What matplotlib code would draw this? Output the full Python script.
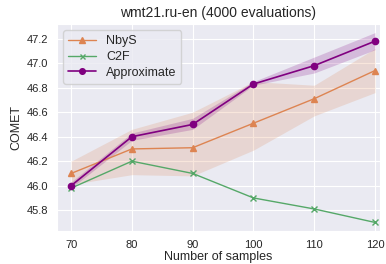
import numpy as np
import matplotlib
matplotlib.use('Agg')
import matplotlib.pyplot as plt
import seaborn as sns

samples = [70, 80, 90, 100, 110, 120]

nbys = [46.10, 46.30, 46.31, 46.51, 46.71, 46.94]
nbys_lo = [46.01, 46.09, 46.08, 46.29, 46.57, 46.76]
nbys_hi = [46.20, 46.46, 46.60, 46.85, 46.82, 47.12]

c2f = [45.98, 46.20, 46.10, 45.90, 45.81, 45.70]

approx = [46.00, 46.40, 46.50, 46.83, 46.98, 47.18]
approx_lo = [45.98, 46.37, 46.46, 46.82, 46.92, 47.11]
approx_hi = [46.03, 46.43, 46.55, 46.85, 47.05, 47.25]

sns.set_style('darkgrid')
plt.rcParams['font.family'] = ['Liberation Sans', 'DejaVu Sans']

pal = sns.color_palette('deep')

fig = plt.figure(figsize=(3.86, 2.64), dpi=100)
ax = fig.add_axes([0.148, 0.125, 0.836, 0.784])

ax.plot(samples, nbys, color=pal[1], marker='^', ms=4.5, lw=1, label='NbyS')
ax.fill_between(samples, nbys_lo, nbys_hi, color=pal[1], alpha=0.2, lw=0)
ax.plot(samples, c2f, color=pal[2], marker='x', ms=4, mew=1, lw=1, label='C2F')
ax.plot(samples, approx, color='purple', marker='o', ms=4.5, lw=1.2, label='Approximate')
ax.fill_between(samples, approx_lo, approx_hi, color='purple', alpha=0.2, lw=0)

ax.set_xlim(67.7, 120.8)
ax.set_ylim(45.63, 47.32)
ax.set_xticks(samples)
ax.set_yticks([45.8, 46.0, 46.2, 46.4, 46.6, 46.8, 47.0, 47.2])
ax.tick_params(labelsize=8, pad=3)
ax.set_xlabel('Number of samples', fontsize=9, labelpad=1)
ax.set_ylabel('COMET', fontsize=9, labelpad=3)
ax.set_title('wmt21.ru-en (4000 evaluations)', fontsize=10, pad=5)
ax.legend(loc='upper left', fontsize=9, handlelength=2.2, borderpad=0.4,
          labelspacing=0.3, markerscale=0.9)

fig.savefig('out.png', dpi=100)
